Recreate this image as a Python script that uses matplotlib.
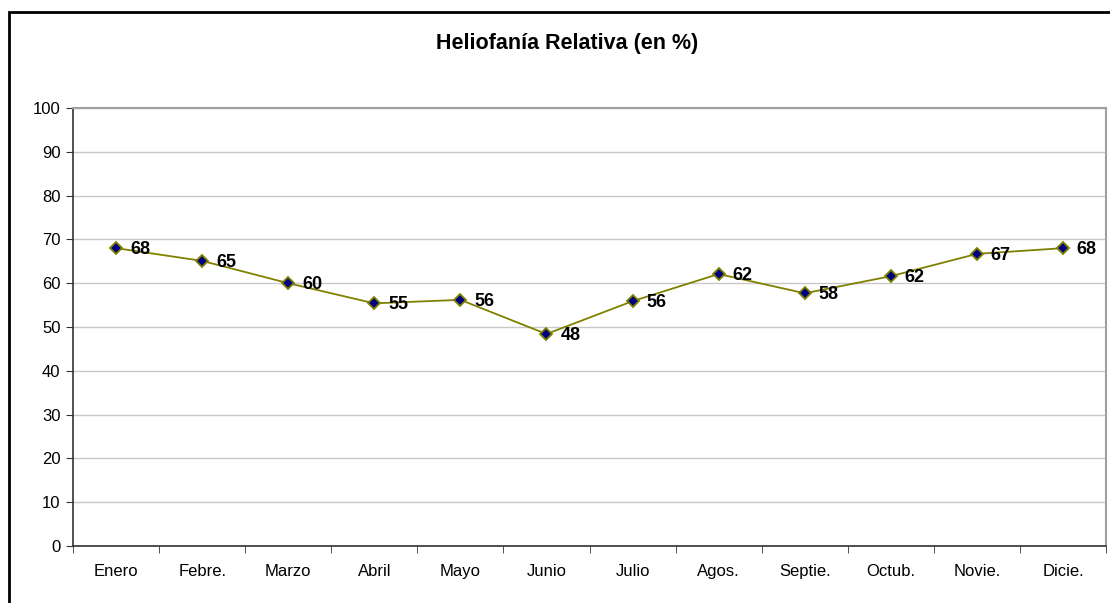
import matplotlib.pyplot as plt
from matplotlib.patches import Rectangle

plt.rcParams['font.family'] = ['Liberation Sans', 'DejaVu Sans']

meses = ['Enero', 'Febre.', 'Marzo', 'Abril', 'Mayo', 'Junio', 'Julio',
         'Agos.', 'Septie.', 'Octub.', 'Novie.', 'Dicie.']
heliofania = [68.0, 65.1, 60.0, 55.4, 56.2, 48.4, 55.9, 62.1, 57.7, 61.6, 66.7, 68.0]

fig = plt.figure(figsize=(11.1, 6.03), dpi=100)
ax = fig.add_axes([73/1110, 57/603, 1033/1110, 438/603])

x = list(range(len(meses)))
ax.plot(x, heliofania, color='#808000', linewidth=1.3, marker='D', markersize=6,
        markerfacecolor='#000080', markeredgecolor='#808000', markeredgewidth=1.3,
        zorder=3)
for xi, v in zip(x, heliofania):
    ax.annotate('%.0f' % v, (xi, v), xytext=(10, -1), textcoords='offset points',
                ha='left', va='center', fontsize=13, fontweight='bold')

ax.set_xlim(-0.5, len(meses) - 0.5)
ax.set_ylim(0, 100)
ax.set_yticks(range(0, 101, 10))
ax.set_xticks(x)
ax.set_xticklabels(meses)
ax.set_xticks([i - 0.5 for i in range(len(meses) + 1)], minor=True)
ax.tick_params(axis='x', which='major', length=0, pad=13, labelsize=12)
ax.tick_params(axis='x', which='minor', length=5, direction='out', color='#333333')
ax.tick_params(axis='y', length=5, direction='out', labelsize=12, pad=4, color='#333333')
ax.yaxis.grid(True, color='#c8c8c8', linewidth=1)
ax.set_axisbelow(True)

for s in ['left', 'bottom']:
    ax.spines[s].set_color('#333333')
    ax.spines[s].set_linewidth(1.2)
for s in ['top', 'right']:
    ax.spines[s].set_color('#a0a0a0')
    ax.spines[s].set_linewidth(1.5)

fig.text(567.5/1110, 1 - 44/603, 'Heliofanía Relativa (en %)', ha='center', va='center',
         fontsize=15.5, fontweight='bold')

fig.patches.append(Rectangle((9/1110, -0.1), 1.2, 1 - 12/603 + 0.1,
                             transform=fig.transFigure, fill=False,
                             edgecolor='black', linewidth=2))

fig.savefig('out.png', dpi=100)
